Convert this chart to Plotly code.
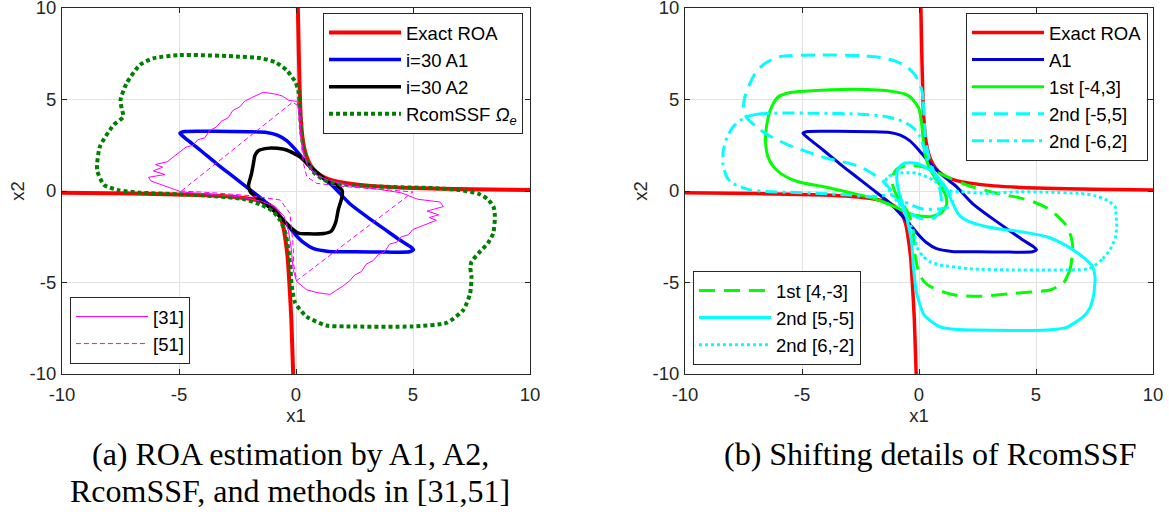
import plotly.graph_objects as go

# ---------------- data (x1, x2) ----------------
ROA_UP = [(0.08, 10.0), (0.12, 7.5), (0.16, 5.5), (0.2, 4.06), (0.3, 2.7), (0.42, 2.0), (0.6, 1.45),
          (0.85, 1.05), (1.16, 0.78), (1.6, 0.57), (2.17, 0.43), (3.2, 0.28), (5.0, 0.16), (7.5, 0.09),
          (10.0, 0.05)]
ROA_LO = [(-10.0, -0.09), (-7.0, -0.14), (-4.1, -0.22), (-2.9, -0.3), (-1.97, -0.42), (-1.4, -0.6),
          (-1.11, -0.78), (-0.85, -1.05), (-0.68, -1.4), (-0.55, -1.9), (-0.47, -2.5), (-0.36, -3.6),
          (-0.29, -4.9), (-0.2, -7.0), (-0.12, -10.0)]

A1 = [(-4.96, 3.15), (-4.75, 3.25), (-3.5, 3.26), (-2.0, 3.24), (-1.25, 3.2), (-0.8, 3.05), (-0.4, 2.75),
      (-0.05, 2.3), (0.35, 1.7), (0.74, 1.15), (1.15, 0.7), (1.6, 0.24), (2.3, -0.7), (3.02, -1.4),
      (3.8, -2.1), (4.44, -2.68), (4.9, -3.05), (5.02, -3.2), (4.85, -3.32), (3.88, -3.34), (2.5, -3.32),
      (1.4, -3.3), (0.75, -3.15), (0.3, -2.8), (-0.05, -2.35), (-0.4, -1.8), (-0.8, -1.25), (-1.3, -0.6),
      (-2.0, 0.1), (-2.68, 0.78), (-3.4, 1.5), (-4.1, 2.24), (-4.6, 2.75), (-4.96, 3.15)]

A2 = [(-1.61, 2.2), (-1.25, 2.33), (-0.8, 2.33), (-0.4, 2.24), (0.17, 1.87), (0.6, 1.33), (1.0, 0.9),
      (1.31, 0.6), (1.75, 0.3), (1.98, 0.0), (1.95, -0.4), (1.81, -1.0), (1.7, -1.7), (1.5, -2.2),
      (1.2, -2.32), (0.5, -2.34), (0.1, -2.3), (-0.26, -1.95), (-0.82, -1.22), (-1.54, -0.49),
      (-1.95, -0.05), (-2.03, 0.3), (-1.9, 0.95), (-1.82, 1.5), (-1.75, 1.95), (-1.61, 2.2)]

RCOM = [(-6.1, 7.25), (-4.96, 7.43), (-2.68, 7.36), (-1.5, 7.25), (-0.9, 7.05), (-0.4, 6.6), (-0.05, 6.0),
        (0.1, 5.5), (0.17, 4.4), (0.22, 3.3), (0.32, 2.4), (0.5, 1.6), (0.73, 1.05), (1.2, 0.6),
        (2.0, 0.36), (2.86, 0.28), (4.5, 0.2), (5.7, 0.17), (7.0, 0.05), (7.8, -0.15), (8.2, -0.45),
        (8.45, -0.9), (8.5, -1.4), (8.43, -2.3), (8.2, -2.85), (7.8, -3.4), (7.5, -3.86), (7.45, -4.2),
        (7.5, -4.68), (7.44, -5.6), (7.15, -6.5), (6.44, -7.2), (5.0, -7.4), (2.17, -7.4), (1.3, -7.35),
        (0.46, -6.87), (-0.04, -6.1), (-0.18, -5.2), (-0.25, -4.0), (-0.35, -3.0), (-0.45, -2.3),
        (-0.68, -1.6), (-1.0, -1.1), (-1.5, -0.75), (-2.2, -0.45), (-3.5, -0.28), (-5.0, -0.18),
        (-6.67, -0.09), (-7.6, 0.05), (-8.2, 0.33), (-8.5, 1.15), (-8.38, 2.42), (-7.8, 3.6),
        (-7.38, 4.06), (-7.45, 4.5), (-7.5, 4.97), (-7.24, 5.89), (-6.67, 6.89), (-6.1, 7.25)]

REF31 = [(-4.9, -0.05), (-6.2, 0.55), (-6.3, 0.75), (-5.6, 0.9), (-6.1, 1.1), (-5.7, 1.3), (-6.0, 1.45),
         (-5.5, 1.6), (-5.2, 1.9), (-5.0, 2.1), (-4.7, 2.4), (-4.4, 2.5), (-4.2, 2.8), (-3.9, 2.9),
         (-3.7, 3.3), (-3.4, 3.5), (-3.2, 3.8), (-2.9, 4.0), (-2.7, 4.4), (-2.4, 4.6), (-2.2, 4.9),
         (-1.9, 5.1), (-1.4, 5.4), (-0.9, 5.3), (-0.6, 5.2), (-0.3, 4.95), (0.05, 4.9), (0.12, 4.3),
         (0.18, 3.2), (0.3, 2.2), (0.5, 1.4), (0.9, 0.85), (1.5, 0.55), (2.5, 0.25), (3.5, 0.1),
         (4.5, -0.1), (5.2, -0.45), (6.15, -0.6), (6.3, -0.85), (5.6, -1.1), (6.1, -1.3), (5.7, -1.45),
         (6.0, -1.6), (5.0, -2.1), (4.8, -2.4), (4.5, -2.5), (4.3, -2.8), (4.0, -2.9), (3.8, -3.3),
         (3.5, -3.5), (3.3, -3.8), (3.0, -4.0), (2.8, -4.4), (2.5, -4.6), (2.3, -4.9), (2.0, -5.2),
         (1.45, -5.65), (0.9, -5.55), (0.46, -5.4), (0.03, -4.95), (-0.12, -4.3), (-0.2, -3.2),
         (-0.32, -2.2), (-0.5, -1.4), (-0.9, -0.85), (-1.5, -0.55), (-2.5, -0.3), (-3.5, -0.2),
         (-4.9, -0.05)]

REF51 = [(-4.9, 0.0), (-0.15, 4.85), (0.17, 4.6), (0.2, 3.4), (0.24, 2.42), (0.32, 1.5), (0.46, 0.78),
         (0.88, 0.42), (2.0, 0.25), (3.5, 0.1), (5.0, -0.05), (0.03, -4.9), (-0.1, -4.0), (-0.12, -3.0),
         (-0.2, -2.0), (-0.26, -1.22), (-0.68, -0.49), (-2.0, -0.25), (-3.5, -0.1), (-4.9, 0.0)]

FIRST_M43 = [(-6.55, 3.15), (-6.45, 4.0), (-6.3, 4.6), (-6.01, 5.15), (-5.5, 5.38), (-4.94, 5.45),
             (-2.81, 5.56), (-1.6, 5.5), (-1.1, 5.43), (-0.6, 5.3), (-0.3, 5.05), (0.0, 4.5), (0.12, 3.6),
             (0.18, 2.8), (0.25, 2.06), (0.4, 1.4), (0.65, 0.8), (0.95, 0.25), (1.15, -0.3), (1.18, -0.75),
             (0.95, -1.2), (0.47, -1.4), (-0.24, -1.31), (-0.8, -1.0), (-1.38, -0.67), (-2.1, -0.35),
             (-2.81, -0.13), (-3.6, 0.1), (-4.23, 0.27), (-4.9, 0.42), (-5.37, 0.6), (-5.9, 0.95),
             (-6.22, 1.33), (-6.45, 1.85), (-6.55, 2.5), (-6.55, 3.15)]

FIRST_4M3 = [(6.57, -3.1), (6.47, -4.2), (6.3, -4.75), (6.17, -5.04), (5.6, -5.41), (5.0, -5.5),
             (4.03, -5.6), (2.61, -5.75), (1.6, -5.7), (1.0, -5.5), (0.61, -5.3), (0.25, -5.0),
             (0.04, -4.6), (-0.1, -4.0), (-0.2, -3.2), (-0.25, -2.1), (-0.4, -1.4), (-0.65, -0.8),
             (-0.95, -0.25), (-1.12, 0.3), (-1.15, 0.75), (-0.95, 1.2), (-0.47, 1.4), (0.24, 1.3),
             (0.8, 1.0), (1.38, 0.67), (2.1, 0.3), (2.81, 0.05), (3.6, -0.2), (4.23, -0.35), (4.9, -0.6),
             (5.5, -0.95), (5.95, -1.4), (6.3, -1.9), (6.5, -2.5), (6.57, -3.1)]

SECOND_M55 = [(0.12, 5.52), (0.18, 4.9), (0.22, 4.0), (0.26, 3.15), (0.33, 2.4), (0.45, 1.75), (0.65, 1.0),
              (0.85, 0.3), (0.95, -0.4), (0.9, -1.1), (0.67, -1.45), (0.1, -1.5), (-0.47, -1.15),
              (-0.85, -0.6), (-1.1, -0.1), (-1.52, 0.51), (-2.24, 1.15), (-2.81, 1.45), (-3.94, 1.79),
              (-4.8, 2.15), (-5.65, 2.55), (-6.3, 2.95), (-6.8, 3.35), (-7.36, 4.0), (-7.5, 4.45),
              (-7.45, 5.1), (-7.22, 5.89), (-6.95, 6.55), (-6.55, 7.0), (-5.94, 7.34), (-4.23, 7.43),
              (-2.5, 7.4), (-1.67, 7.3), (-1.0, 7.1), (-0.53, 6.79), (-0.15, 6.3), (0.12, 5.52)]

SECOND_5M5 = [(-0.88, 0.05), (-0.95, 0.7), (-0.9, 1.2), (-0.67, 1.5), (-0.1, 1.52), (0.47, 1.15), (0.9, 0.6),
              (1.18, 0.1), (1.4, -0.55), (1.7, -1.3), (2.1, -1.65), (2.89, -1.95), (3.6, -2.1), (4.32, -2.22),
              (5.46, -2.5), (6.1, -2.85), (6.59, -3.22), (7.05, -3.65), (7.4, -4.1), (7.52, -4.68),
              (7.5, -5.3), (7.45, -5.77), (7.3, -6.4), (7.02, -6.87), (6.31, -7.45), (5.46, -7.6),
              (2.61, -7.6), (1.5, -7.55), (0.9, -7.42), (0.4, -7.0), (0.18, -6.69), (-0.1, -5.59),
              (-0.24, -4.14), (-0.31, -2.86), (-0.45, -1.9), (-0.6, -1.1), (-0.88, 0.05)]

SECOND_M62 = [(-7.36, 4.06), (-6.9, 4.2), (-6.37, 4.25), (-4.23, 4.25), (-2.5, 4.2), (-1.38, 4.06),
              (-0.9, 3.9), (-0.53, 3.7), (-0.2, 3.4), (0.04, 2.97), (0.2, 2.4), (0.33, 1.87), (0.55, 1.2),
              (0.85, 0.6), (1.2, 0.05), (1.45, -0.5), (1.3, -0.85), (0.95, -0.97), (0.1, -0.97),
              (-0.61, -0.6), (-1.2, -0.2), (-1.7, -0.28), (-2.09, -0.31), (-3.0, -0.22), (-4.23, -0.13),
              (-5.5, -0.07), (-6.37, -0.04), (-7.2, 0.05), (-7.65, 0.24), (-8.0, 0.45), (-8.22, 0.78),
              (-8.38, 1.5), (-8.36, 2.24), (-8.2, 2.95), (-7.94, 3.51), (-7.65, 3.85), (-7.36, 4.06)]

SECOND_6M2 = [(7.45, -4.14), (7.85, -3.7), (8.16, -3.22), (8.38, -2.6), (8.45, -1.95), (8.42, -1.3),
              (8.38, -0.86), (8.02, -0.49), (7.5, -0.25), (6.88, -0.13), (5.5, -0.07), (4.32, -0.04),
              (2.89, -0.13), (1.75, -0.04), (1.18, 0.05), (0.61, 0.6), (-0.1, 0.97), (-0.95, 0.97),
              (-1.3, 0.8), (-1.45, 0.5), (-1.2, -0.1), (-0.7, -1.0), (-0.35, -1.9), (-0.15, -2.6),
              (-0.1, -3.04), (0.18, -3.59), (0.47, -3.86), (0.9, -4.04), (2.18, -4.25), (4.03, -4.32),
              (5.5, -4.32), (6.88, -4.3), (7.2, -4.25), (7.45, -4.14)]

TICK_VALS = [-10, -5, 0, 5, 10]
TICK_TEXT = ["-10", "-5", "0", "5", "10"]

# ---------------- figure ----------------
W, H = 1169, 523
FONT = "Liberation Sans, Arial, sans-serif"
SERIF = "Liberation Serif, Times New Roman, serif"

fig = go.Figure()


def add(pts, xa, ya, name, color, width, dash, legend, show=True, shape="spline", smooth=0.6):
    xs = [p[0] for p in pts]
    ys = [p[1] for p in pts]
    line = dict(color=color, width=width, dash=dash)
    if shape == "spline":
        line["shape"] = "spline"
        line["smoothing"] = smooth
    fig.add_trace(go.Scatter(x=xs, y=ys, mode="lines", name=name, line=line, xaxis=xa, yaxis=ya,
                             legend=legend, showlegend=show, legendgroup=name + legend,
                             hoverinfo="skip"))


def add_roa(xa, ya, legend, width):
    xs = [p[0] for p in ROA_UP] + [None] + [p[0] for p in ROA_LO]
    ys = [p[1] for p in ROA_UP] + [None] + [p[1] for p in ROA_LO]
    fig.add_trace(go.Scatter(x=xs, y=ys, mode="lines", name="Exact ROA",
                             line=dict(color="#FF0000", width=width, shape="spline", smoothing=0.6),
                             xaxis=xa, yaxis=ya, legend=legend, legendgroup="roa" + legend,
                             hoverinfo="skip"))


# left panel
add_roa("x", "y", "legend", 4)
add(A1, "x", "y", "i=30 A1", "#0000FF", 3.5, "solid", "legend")
add(A2, "x", "y", "i=30 A2", "#000000", 3.5, "solid", "legend")
add(RCOM, "x", "y", "RcomSSF <i>Ω</i><sub><i>e</i></sub>", "#008000", 4, "4px,3px", "legend")
add(REF31, "x", "y", "[31]", "#FF00FF", 1, "solid", "legend2", shape="linear")
add(REF51, "x", "y", "[51]", "#FF00FF", 1, "5px,3px", "legend2", shape="linear")

# right panel
add_roa("x2", "y2", "legend3", 3.5)
add(A1, "x2", "y2", "A1", "#0000DD", 3, "solid", "legend3")
add(FIRST_M43, "x2", "y2", "1st [-4,3]", "#00FF00", 3, "solid", "legend3")
add(SECOND_M55, "x2", "y2", "2nd [-5,5]", "#00FFFF", 3, "14px,8px", "legend3")
add(SECOND_M62, "x2", "y2", "2nd [-6,2]", "#00FFFF", 3, "12px,5px,3px,5px", "legend3")
add(FIRST_4M3, "x2", "y2", "1st [4,-3]", "#00FF00", 3, "16px,9px", "legend4")
add(SECOND_5M5, "x2", "y2", "2nd [5,-5]", "#00FFFF", 3, "solid", "legend4")
add(SECOND_6M2, "x2", "y2", "2nd [6,-2]", "#00FFFF", 3, "3px,3px", "legend4")

TF = dict(family=FONT, size=18.5, color="#262626")
axis_common = dict(range=[-10, 10], tickvals=TICK_VALS, ticktext=TICK_TEXT, showgrid=True,
                   gridcolor="#e2e2e2", gridwidth=1, zeroline=False, showline=True, linecolor="#262626",
                   linewidth=1, mirror="ticks", ticks="inside", ticklen=5, tickcolor="#262626",
                   tickfont=TF, fixedrange=True, automargin=False, ticklabeloverflow="allow")

ydom = [1 - 374 / H, 1 - 8 / H]
fig.update_layout(
    width=W, height=H, margin=dict(l=0, r=0, t=0, b=0), plot_bgcolor="white", paper_bgcolor="white",
    showlegend=True,
    xaxis=dict(domain=[62 / W, 530 / W], anchor="y", ticklabelstandoff=4,
               title=dict(text="x1", font=TF, standoff=4), **axis_common),
    yaxis=dict(domain=ydom, anchor="x", ticklabelstandoff=1,
               title=dict(text="x2", font=TF, standoff=0), **axis_common),
    xaxis2=dict(domain=[685 / W, 1153 / W], anchor="y2", ticklabelstandoff=4,
                title=dict(text="x1", font=TF, standoff=4), **axis_common),
    yaxis2=dict(domain=ydom, anchor="x2", ticklabelstandoff=1,
                title=dict(text="x2", font=TF, standoff=0), **axis_common),
)

leg_common = dict(bgcolor="white", bordercolor="#262626", borderwidth=1,
                  font=dict(family=FONT, size=18.5, color="#000000"), itemwidth=72, tracegroupgap=4,
                  traceorder="normal", itemclick=False, itemdoubleclick=False)
fig.update_layout(
    legend=dict(x=523 / W, y=1 - 13 / H, xanchor="right", yanchor="top", **leg_common),
    legend2=dict(x=70 / W, y=1 - 364 / H, xanchor="left", yanchor="bottom", **leg_common),
    legend3=dict(x=1148 / W, y=1 - 13 / H, xanchor="right", yanchor="top", **leg_common),
    legend4=dict(x=693 / W, y=1 - 365 / H, xanchor="left", yanchor="bottom", **leg_common),
)

CF = dict(family=SERIF, size=32, color="#000000")
fig.add_annotation(text="(a) ROA estimation by A1, A2,", x=290 / W, y=1 - 454 / H, xref="paper",
                   yref="paper", xanchor="center", yanchor="middle", showarrow=False, font=CF)
fig.add_annotation(text="RcomSSF, and methods in [31,51]", x=290 / W, y=1 - 491 / H, xref="paper",
                   yref="paper", xanchor="center", yanchor="middle", showarrow=False, font=CF)
fig.add_annotation(text="(b) Shifting details of RcomSSF", x=930 / W, y=1 - 454 / H, xref="paper",
                   yref="paper", xanchor="center", yanchor="middle", showarrow=False, font=CF)

fig.write_html("out.html", config={"displayModeBar": False},
               post_script="document.body.style.margin='0';document.body.style.overflow='hidden';")
